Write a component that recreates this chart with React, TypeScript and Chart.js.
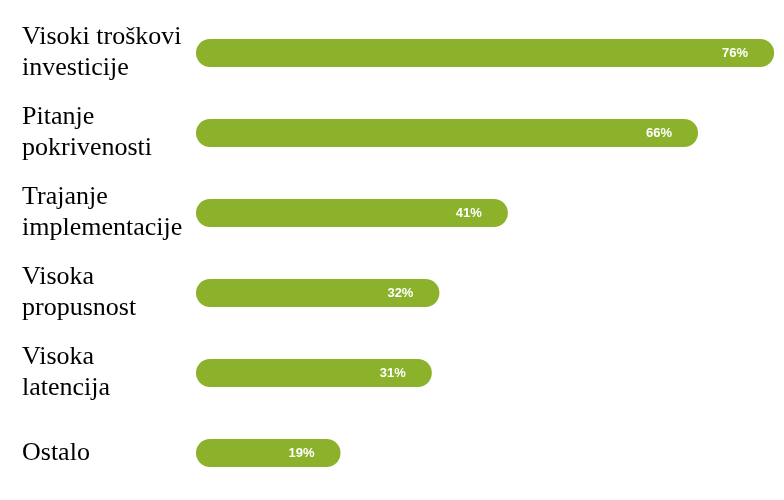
import React, { useEffect, useRef } from "react";
import { Chart, registerables } from "chart.js";

Chart.register(...registerables);

const categories: string[][] = [
  ["Visoki troškovi", "investicije"],
  ["Pitanje", "pokrivenosti"],
  ["Trajanje", "implementacije"],
  ["Visoka", "propusnost"],
  ["Visoka", "latencija"],
  ["Ostalo"],
];
const values: number[] = [76, 66, 41, 32, 31, 19];
const valueLabels: string[] = ["76%", "66%", "41%", "32%", "31%", "19%"];

const barColor = "#8cb22c";

const valuePlugin = {
  id: "valueLabels",
  afterDatasetsDraw(chart: any) {
    const ctx = chart.ctx;
    const meta = chart.getDatasetMeta(0);
    ctx.save();
    ctx.fillStyle = "#ffffff";
    ctx.font = "bold 13px 'Liberation Sans', Arial, sans-serif";
    ctx.textAlign = "right";
    ctx.textBaseline = "middle";
    meta.data.forEach((bar: any, i: number) => {
      ctx.fillText(valueLabels[i], bar.x - 26, bar.y);
    });
    ctx.restore();
  },
};

export default function App() {
  const ref = useRef<HTMLCanvasElement | null>(null);
  useEffect(() => {
    if (!ref.current) return;
    const chart = new Chart(ref.current, {
      type: "bar",
      data: {
        labels: categories,
        datasets: [
          {
            data: values,
            backgroundColor: barColor,
            borderRadius: 14,
            borderSkipped: false,
            barPercentage: 0.7,
            categoryPercentage: 0.5,
          },
        ],
      },
      options: {
        indexAxis: "y",
        animation: false,
        responsive: false,
        maintainAspectRatio: false,
        layout: { padding: { top: 13, bottom: 7, left: 22, right: 0 } },
        plugins: { legend: { display: false }, tooltip: { enabled: false } },
        scales: {
          x: { display: false, min: 0, max: 77.3 },
          y: {
            grid: { display: false },
            border: { display: false },
            afterFit: (scale: any) => {
              scale.width = 174;
              scale.paddingTop = 0;
              scale.paddingBottom = 0;
            },
            ticks: {
              crossAlign: "far",
              color: "#000000",
              padding: 0,
              font: { family: "'Liberation Serif', 'Times New Roman', serif", size: 26, lineHeight: 1.2 },
            },
          },
        },
      },
      plugins: [valuePlugin],
    });
    return () => chart.destroy();
  }, []);
  return (
    <div style={{ position: "absolute", left: 0, top: 0, width: 784, height: 500, background: "#ffffff" }}>
      <canvas ref={ref} width={784} height={500} />
    </div>
  );
}
